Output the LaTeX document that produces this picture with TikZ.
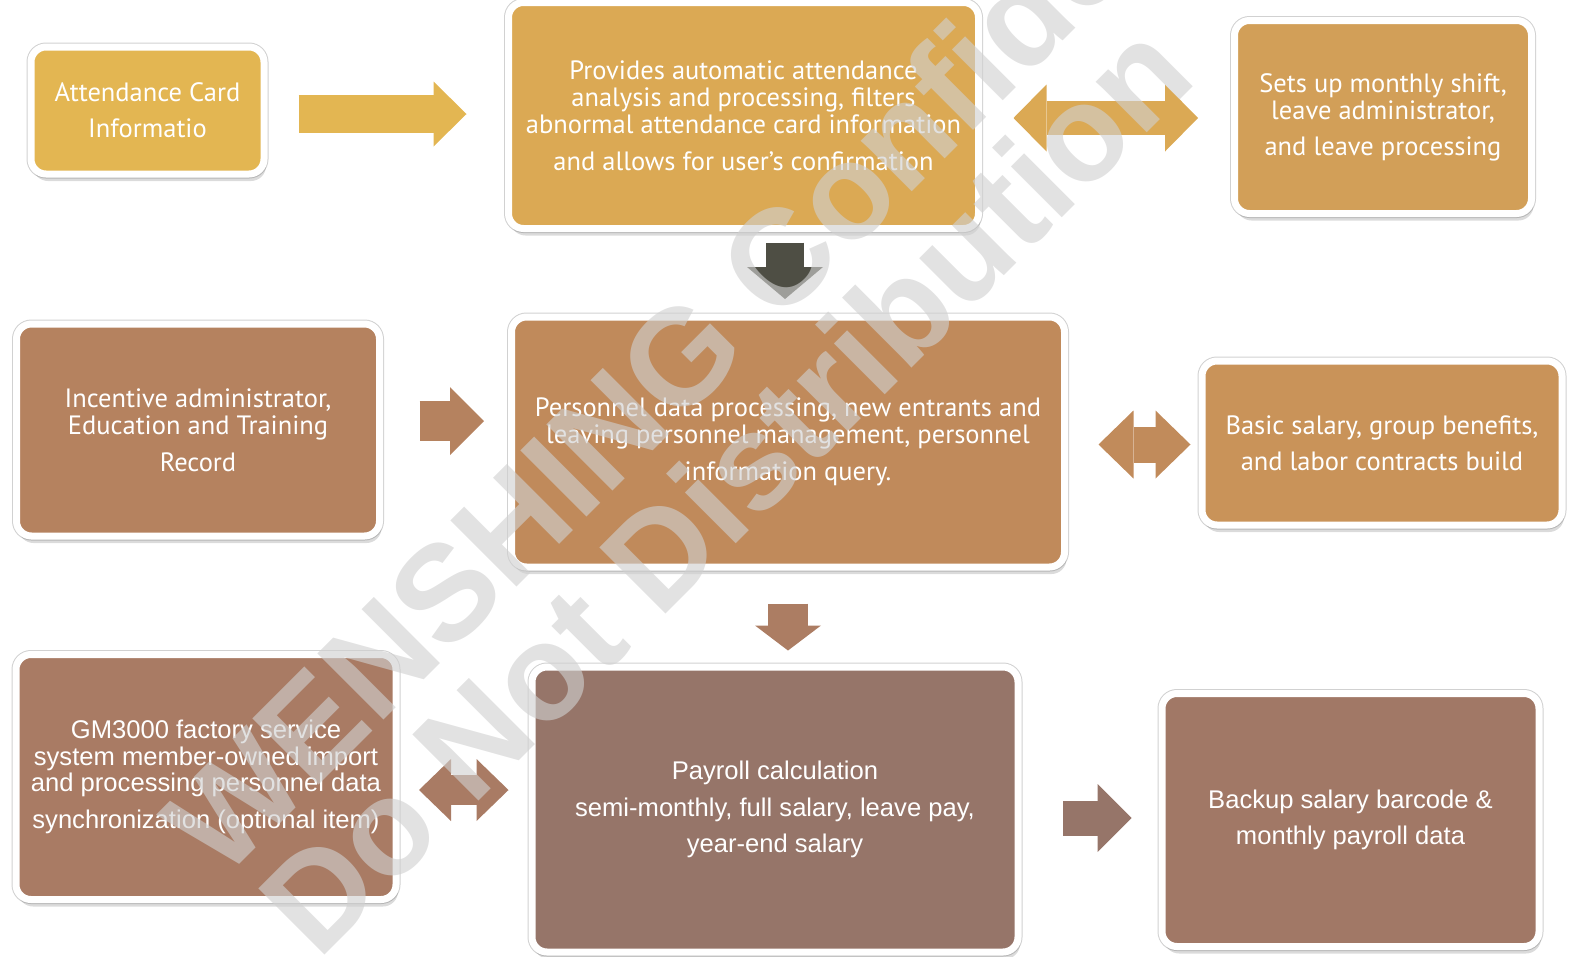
\documentclass[tikz,border=0pt]{standalone}
\usepackage{fontspec}
\setmainfont{PT Sans}
\newfontfamily\arialfont{Liberation Sans}
\usetikzlibrary{arrows.meta,calc,shadows,positioning}

\definecolor{cardA}{HTML}{E3B652}
\definecolor{cardB}{HTML}{DBA954}
\definecolor{cardC}{HTML}{D29F58}
\definecolor{cardD}{HTML}{B5825F}
\definecolor{cardE}{HTML}{C08A5B}
\definecolor{cardF}{HTML}{C99359}
\definecolor{cardG}{HTML}{A97B64}
\definecolor{cardH}{HTML}{967569}
\definecolor{cardI}{HTML}{A17866}
\definecolor{darkarrow}{HTML}{4E4E44}
\definecolor{wmgray}{HTML}{D0D0D0}

\tikzset{
  card/.style={draw=white, line width=7pt, rounded corners=15pt, inner sep=0pt,
    text=white, align=center, font=\fontsize{26.5}{27}\selectfont,
    preaction={draw=black!18, line width=9pt},
    drop shadow={shadow xshift=2pt, shadow yshift=-7pt, opacity=.2, fill=black!70}},
  arialcard/.style={card, font=\arialfont\fontsize{25.6}{26.5}\selectfont},
  onearrow/.style n args={3}{line width=#1,
    -{Triangle[length=#3,width=#2,line width=0pt]}},
  twoarrow/.style n args={3}{line width=#1,
    {Triangle[length=#3,width=#2,line width=0pt]}-{Triangle[length=#3,width=#2,line width=0pt]}},
  watermark/.style={rotate=45, anchor=base west, inner sep=0pt, text=wmgray,
    text opacity=.62, font=\arialfont\bfseries\fontsize{136}{136}\selectfont},
}

\begin{document}
\begin{tikzpicture}[x=1pt, y=-1pt]
\useasboundingbox (0,0) rectangle (1577,956);

% top row
\node[card, fill=cardA, minimum width=233pt, minimum height=127pt] (att) at (147.5,110.5)
  {Attendance Card\\[9pt]Informatio};
\node[card, fill=cardB, minimum width=470pt, minimum height=226pt] (prov) at (743.5,115.5)
  {Provides automatic attendance\\analysis and processing, filters\\abnormal attendance card information\\[10pt]and allows for user’s confirmation};
\node[card, fill=cardC, minimum width=297pt, minimum height=193pt] (shift) at (1383,117)
  {Sets up monthly shift,\\leave administrator,\\[9pt]and leave processing};

% middle row
\node[card, fill=cardD, minimum width=363pt, minimum height=212pt] (inc) at (198,430)
  {Incentive administrator,\\Education and Training\\[10pt]Record};
\node[card, fill=cardE, minimum width=553pt, minimum height=250pt] (pers) at (788,442)
  {Personnel data processing, new entrants and\\leaving personnel management, personnel\\[10pt]information query.};
\node[card, fill=cardF, minimum width=360pt, minimum height=164pt] (basic) at (1382,443)
  {Basic salary, group benefits,\\[9pt]and labor contracts build};

% bottom row
\node[arialcard, fill=cardG, minimum width=380pt, minimum height=245pt] (gm) at (206,777)
  {GM3000 factory service\\system member-owned import\\and processing personnel data\\[10pt]synchronization (optional item)};
\node[arialcard, fill=cardH, minimum width=486pt, minimum height=285pt] (pay) at (775,809.5)
  {Payroll calculation\\[10pt]semi-monthly, full salary, leave pay,\\[10pt]year-end salary};
\node[arialcard, fill=cardI, minimum width=377pt, minimum height=253pt] (backup) at (1350.5,820)
  {Backup salary barcode \&\\[9pt]monthly payroll data};

% block arrows
\draw[onearrow={38pt}{65pt}{33pt}, draw=cardA, shorten <=31pt, shorten >=38.5pt]
  ($(att.east)+(0,3.5)$) -- ($(att.east -| prov.west)+(0,3.5)$);
\draw[twoarrow={34pt}{67pt}{33pt}, draw=cardB, shorten <=31.5pt, shorten >=33pt]
  ($(prov.east)+(0,2.5)$) -- ($(prov.east -| shift.west)+(0,2.5)$);
\draw[onearrow={38pt}{76pt}{32pt}, draw=darkarrow, shorten <=10.5pt, shorten >=14.5pt]
  ($(pers.north |- prov.south)+(-3,0)$) -- ($(pers.north)+(-3,0)$);
\draw[onearrow={40pt}{68pt}{34pt}, draw=cardD, shorten <=36.5pt, shorten >=24pt]
  ($(inc.east)+(0,-9)$) -- ($(inc.east -| pers.west)+(0,-9)$);
\draw[twoarrow={36pt}{68pt}{35pt}, draw=cardE!90!cardF, shorten <=30.5pt, shorten >=8pt]
  ($(pers.east)+(0,2.5)$) -- ($(pers.east -| basic.west)+(0,2.5)$);
\draw[onearrow={40pt}{66pt}{25pt}, draw=cardG!85!cardE, shorten <=33pt, shorten >=13pt]
  (pers.south) -- (pers.south |- pay.north);
\draw[twoarrow={30pt}{62pt}{32pt}, draw=cardG, shorten <=19.5pt, shorten >=20pt]
  ($(gm.east)+(0,13)$) -- ($(gm.east -| pay.west)+(0,13)$);
\draw[onearrow={35pt}{68pt}{34pt}, draw=cardH, shorten <=41.5pt, shorten >=27pt]
  ($(pay.east)+(0,8.5)$) -- ($(pay.east -| backup.west)+(0,8.5)$);

% watermark
\node[watermark] (wmtop) at (222,882) {WENSHING Confidential};
\node[watermark] (wmbot) at (318,962) {Do Not Distribution};
\end{tikzpicture}
\end{document}
